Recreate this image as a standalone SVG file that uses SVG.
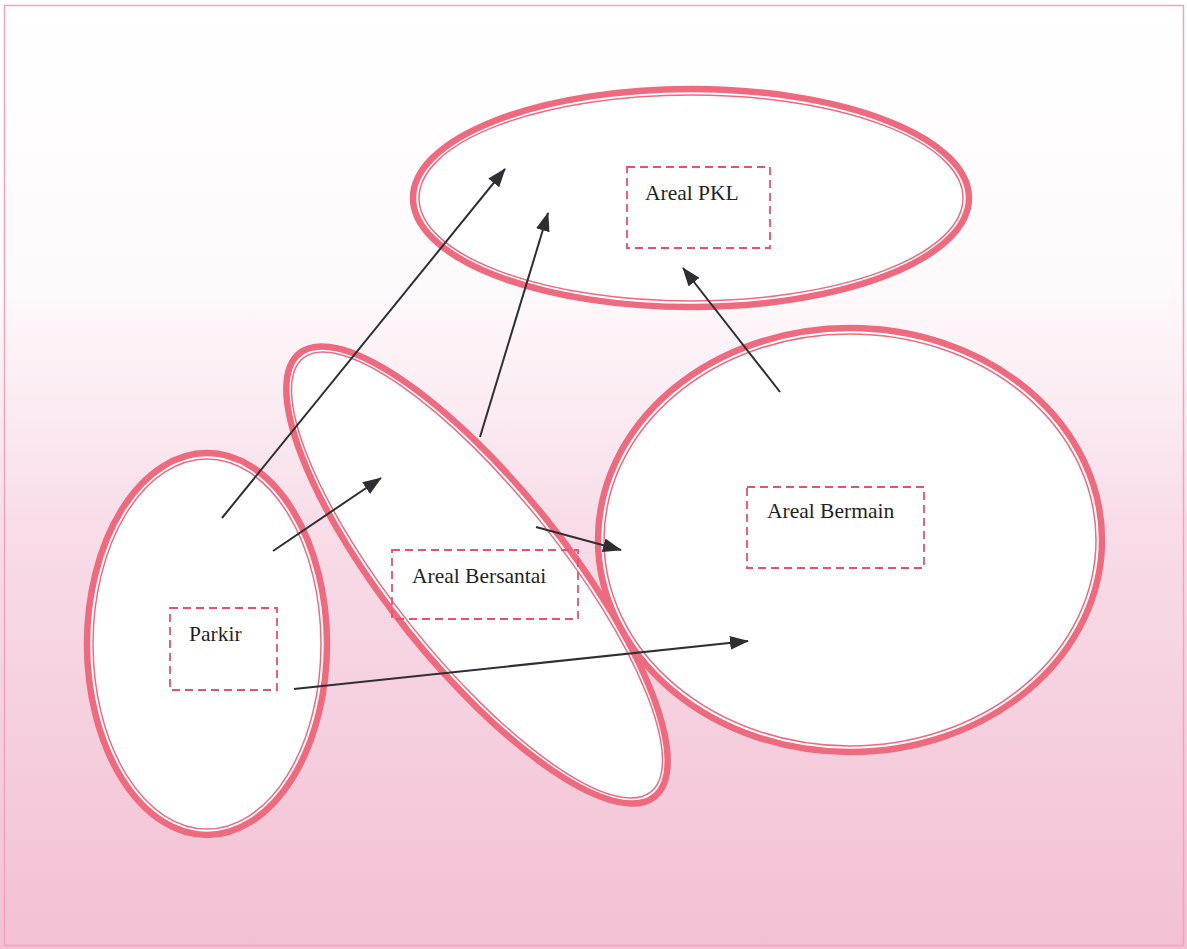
<svg xmlns="http://www.w3.org/2000/svg" width="1187" height="949" viewBox="0 0 1187 949">
  <defs>
    <linearGradient id="bg" x1="0" y1="0" x2="0" y2="1">
      <stop offset="0" stop-color="#ffffff"/>
      <stop offset="0.3" stop-color="#fefafc"/>
      <stop offset="0.55" stop-color="#f8dde8"/>
      <stop offset="1" stop-color="#f3c0d3"/>
    </linearGradient>
    <marker id="arrow" markerUnits="userSpaceOnUse" markerWidth="20" markerHeight="14" refX="18" refY="7" orient="auto">
      <path d="M0,0 L19,7 L0,14 z" fill="#2f2f33"/>
    </marker>
  </defs>
  <style>
    .outer { fill: none; stroke: #ee6a7f; stroke-width: 6.5; }
    .inner { fill: none; stroke: #ee6a7f; stroke-width: 1.5; }
    .fill { fill: #ffffff; stroke: none; }
    .box { fill: none; stroke: #e8506e; stroke-width: 1.8; stroke-dasharray: 8 5; }
    .label { font-family: "Liberation Serif", "Times New Roman", serif; font-size: 21.5px; fill: #1f1f26; }
    .link { fill: none; stroke: #2f2f33; stroke-width: 2; marker-end: url(#arrow); }
  </style>

  <!-- page background and frame -->
  <rect x="0" y="0" width="1187" height="949" fill="url(#bg)"/>
  <rect x="4.5" y="5.5" width="1179" height="940" fill="none" stroke="#f2a2ba" stroke-width="1.5"/>

  <!-- white interiors of all areas, laid under every outline -->
  <g id="fills">
    <ellipse class="fill" cx="691" cy="198" rx="277" ry="108"/>
    <ellipse class="fill" cx="207" cy="644" rx="120" ry="191"/>
    <ellipse class="fill" cx="0" cy="0" rx="284" ry="89" transform="translate(477 575) rotate(51.3)"/>
    <ellipse class="fill" cx="850" cy="540" rx="252" ry="212"/>
  </g>

  <g id="node-pkl">
    <ellipse class="outer" cx="691" cy="198" rx="278" ry="109"/>
    <ellipse class="inner" cx="691" cy="198" rx="272" ry="103"/>
    <rect class="box" x="627" y="167" width="143" height="81"/>
    <text class="label" x="645" y="200">Areal PKL</text>
  </g>

  <g id="node-parkir">
    <ellipse class="outer" cx="207" cy="644" rx="120" ry="191"/>
    <ellipse class="inner" cx="207" cy="644" rx="114" ry="185"/>
    <rect class="box" x="170" y="608" width="107" height="82"/>
    <text class="label" x="189" y="641">Parkir</text>
  </g>

  <g id="node-bersantai">
    <g transform="translate(477 575) rotate(51.3)">
      <ellipse class="outer" cx="0" cy="0" rx="284" ry="89"/>
      <ellipse class="inner" cx="0" cy="0" rx="278" ry="83"/>
    </g>
    <rect class="box" x="392" y="550" width="186" height="69"/>
    <text class="label" x="412" y="583">Areal Bersantai</text>
  </g>

  <g id="node-bermain">
    <ellipse class="outer" cx="850" cy="540" rx="252" ry="212"/>
    <ellipse class="inner" cx="850" cy="540" rx="246" ry="206"/>
    <rect class="box" x="747" y="487" width="177" height="81"/>
    <text class="label" x="767" y="518">Areal Bermain</text>
  </g>

  <g id="connectors">
    <line class="link" x1="222" y1="518" x2="505" y2="169"/>
    <line class="link" x1="273" y1="551" x2="381" y2="478"/>
    <line class="link" x1="480" y1="437" x2="548" y2="213"/>
    <line class="link" x1="780" y1="392" x2="683" y2="268"/>
    <line class="link" x1="536" y1="527" x2="621" y2="550"/>
    <line class="link" x1="294" y1="689" x2="748" y2="641"/>
  </g>
</svg>
